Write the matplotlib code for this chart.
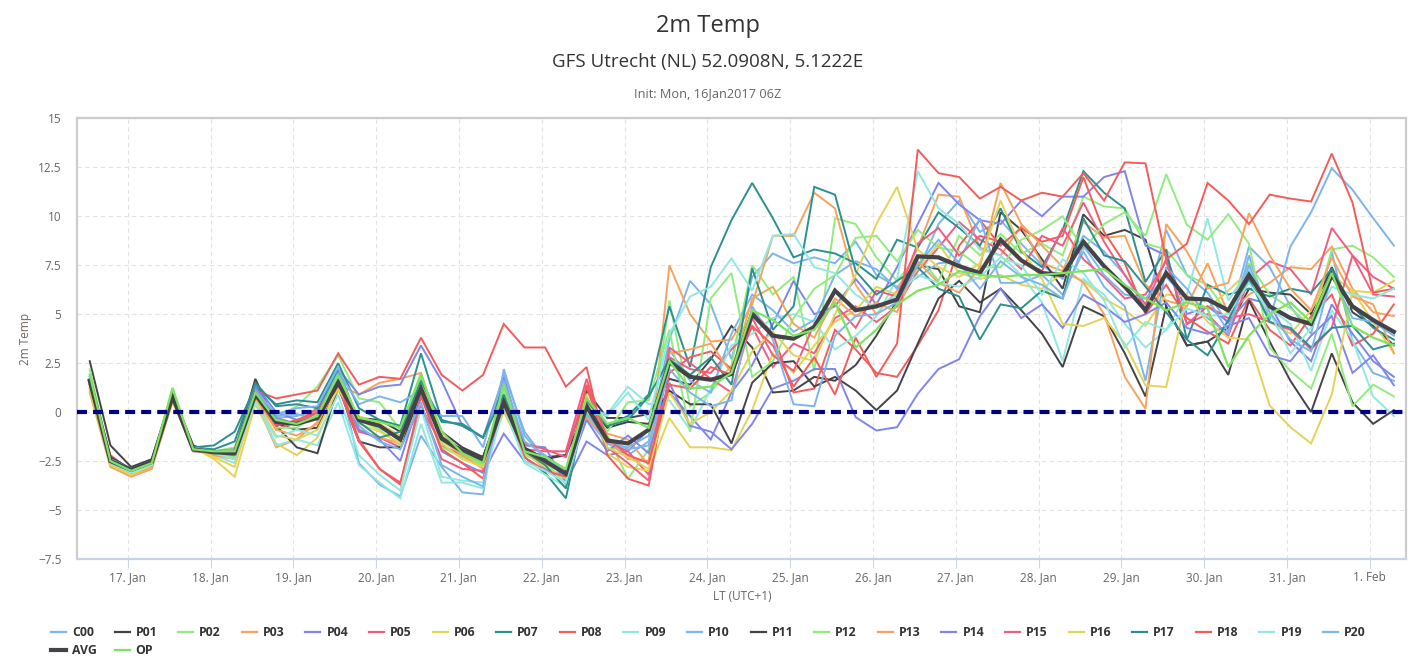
import matplotlib
matplotlib.use('Agg')
import matplotlib.pyplot as plt
import numpy as np
from matplotlib.lines import Line2D
from matplotlib.ticker import FixedLocator, FuncFormatter

plt.rcParams['font.family'] = ['Open Sans', 'DejaVu Sans']

# GFS ensemble, init Mon 16Jan2017 06Z, 6-hourly steps (+6h .. +384h)
lead_hours = np.arange(6, 385, 6)
day_labels = ['17. Jan', '18. Jan', '19. Jan', '20. Jan', '21. Jan', '22. Jan', '23. Jan',
              '24. Jan', '25. Jan', '26. Jan', '27. Jan', '28. Jan', '29. Jan', '30. Jan',
              '31. Jan', '1. Feb']

c00 = [1.8, -2.4, -2.9, -2.5, 0.8, -1.8, -2.0, -2.4, 1.2, -0.3, -0.2, 0.1,
       2.0, -2.6, -3.7, -4.3, -1.2, -2.8, -4.1, -4.2, 2.2, -1.2, -2.4, -3.4, 0.2, -1.6, -2.2, -1.5,
       3.7, 6.7, 5.5, 2.7, 6.9, 8.1, 7.6, 7.9, 7.6, 8.7, 7.0, 6.4, 7.2, 9.6, 10.8, 9.2,
       9.8, 8.6, 7.5, 6.8, 9.0, 8.2, 7.0, 5.3, 9.3, 7.0, 6.1, 4.5, 8.45, 7.4, 5.4, 4.0, 8.2, 3.6, 2.0, 1.6]
p01 = [2.6, -1.7, -2.8, -2.4, 0.9, -1.7, -2.1, -2.0, 1.7, -0.6, -0.9, -0.8,
       1.6, -0.3, -0.4, -1.0, 1.3, -1.0, -1.8, -2.3, 0.6, -1.9, -2.3, -2.2, 1.1, -0.3, -0.3, -0.1,
       1.7, 1.4, 2.7, 4.4, 3.3, 1.0, 1.1, 1.8, 1.6, 2.4, 3.9, 5.7, 7.5, 7.3, 5.4, 5.1,
       10.2, 9.3, 7.8, 6.3, 10.1, 9.0, 9.3, 8.8, 5.4, 3.4, 3.6, 4.3, 6.3, 6.1, 6.0, 5.0, 7.4, 5.1, 4.4, 3.4]
p02 = [2.2, -2.5, -3.0, -2.6, 1.25, -1.9, -2.0, -1.8, 0.9, -0.3, 0.3, 1.3,
       2.9, 0.7, 0.5, -0.9, 2.0, -1.5, -2.1, -2.6, 0.9, -2.2, -2.6, -3.2, 0.0, -1.2, -3.4, -1.9,
       5.7, 0.3, 1.0, 2.4, 7.5, 6.0, 6.9, 2.1, 9.9, 9.6, 7.9, 6.7, 8.0, 6.7, 9.0, 8.0,
       9.1, 8.1, 8.6, 8.0, 11.0, 10.5, 10.4, 8.6, 8.3, 7.0, 6.5, 5.0, 7.6, 6.0, 5.3, 4.4, 8.3, 8.5, 7.9, 6.9]
p03 = [1.0, -2.8, -3.3, -2.9, 0.6, -1.8, -2.1, -2.2, 0.6, -1.8, -1.4, -0.5,
       1.4, 0.9, 1.5, 1.7, 2.0, -1.2, -2.0, -2.5, 0.2, -2.0, -2.9, -3.3, -0.2, -1.1, -1.4, -2.7,
       7.5, 5.0, 3.6, 3.7, 5.5, 9.0, 9.0, 11.2, 10.4, 6.5, 5.0, 6.2, 8.4, 11.1, 11.0, 8.4,
       8.0, 9.5, 7.6, 7.2, 9.7, 8.9, 9.0, 6.5, 5.7, 5.4, 7.6, 5.0, 6.0, 6.6, 7.4, 7.3, 8.45, 6.3, 5.1, 4.9]
p04 = [1.5, -2.6, -3.0, -2.6, 0.7, -1.9, -2.0, -2.1, 1.4, 0.0, -0.4, -0.1,
       2.2, 0.9, 1.3, 1.4, 3.4, 1.6, -0.7, -1.3, 1.8, -1.7, -1.8, -3.6, -1.5, -2.2, -2.0, -0.9,
       1.0, -0.2, -1.4, 1.0, 2.4, 4.5, 6.7, 5.0, 5.4, 6.8, 5.5, 7.4, 9.6, 11.7, 10.6, 9.8,
       9.6, 10.8, 10.0, 11.0, 11.0, 12.0, 12.3, 8.5, 8.0, 5.0, 5.4, 4.6, 5.8, 5.5, 3.6, 2.6, 5.5, 4.0, 2.6, 1.8]
p05 = [1.4, -2.6, -3.1, -2.7, 0.7, -2.0, -2.1, -2.2, 1.0, -0.9, -0.5, 0.2,
       1.2, -1.0, -1.3, -1.8, 0.3, -1.7, -2.2, -2.8, 1.1, -1.9, -2.0, -2.0, 1.7, -1.5, -2.0, -3.2,
       2.8, 2.2, 2.0, 3.2, 4.35, 2.3, 3.5, 3.0, 4.8, 5.4, 4.6, 5.4, 7.2, 8.4, 9.7, 8.8,
       8.3, 7.3, 9.0, 8.5, 10.7, 8.7, 7.0, 5.5, 7.8, 4.5, 5.0, 3.9, 6.8, 7.7, 7.3, 6.0, 9.4, 8.0, 6.9, 6.3]
p06 = [1.1, -2.7, -3.2, -2.8, 0.5, -1.8, -2.4, -3.3, 0.4, -1.6, -2.2, -1.3,
       1.1, -0.2, -0.6, -1.2, 1.8, -1.3, -2.2, -2.7, 0.0, -2.1, -2.7, -3.0, 0.9, -2.1, -2.8, -3.0,
       -0.3, -1.8, -1.8, -1.95, 0.1, 3.0, 2.0, 3.4, 4.6, 5.2, 6.4, 6.0, 7.3, 8.6, 7.1, 6.8,
       7.0, 6.5, 6.3, 7.1, 6.7, 5.8, 5.2, 4.4, 6.0, 5.9, 5.3, 6.2, 7.2, 4.6, 4.0, 5.2, 7.0, 6.2, 4.6, 3.0]
p07 = [1.7, -2.4, -2.9, -2.5, 0.9, -1.8, -1.7, -1.0, 1.3, 0.4, 0.6, 0.5,
       2.5, 0.2, -0.4, -0.7, 3.0, -0.4, -0.7, -1.3, 1.3, -2.3, -3.1, -4.4, 0.5, -0.7, -0.2, 0.9,
       5.4, 2.3, 7.4, 9.8, 11.7, 9.9, 7.9, 8.3, 8.1, 7.6, 6.8, 8.8, 8.4, 10.2, 9.4, 8.5,
       10.4, 8.2, 7.4, 9.3, 12.3, 11.2, 10.4, 6.65, 8.3, 3.7, 6.5, 6.0, 6.3, 5.9, 6.3, 6.1, 7.3, 5.4, 4.3, 3.7]
p08 = [1.5, -2.2, -3.0, -2.6, 0.8, -1.9, -2.0, -1.9, 1.1, 0.7, 0.9, 1.1,
       3.0, 1.4, 1.8, 1.7, 3.8, 1.9, 1.1, 1.9, 4.5, 3.3, 3.3, 1.3, 2.3, -2.2, -3.4, -3.75,
       2.0, 2.8, 3.1, 2.2, 5.2, 4.0, 1.0, 1.2, 4.2, 3.2, 2.0, 1.8, 3.4, 5.2, 8.5, 9.8,
       8.5, 9.4, 8.7, 9.0, 12.0, 9.2, 7.6, 5.0, 6.5, 4.8, 4.1, 3.5, 5.8, 4.2, 3.4, 4.9, 6.0, 3.4, 4.0, 5.5]
p09 = [1.3, -2.6, -3.1, -2.6, 0.8, -1.8, -2.2, -2.6, 0.7, -1.7, -1.4, -1.7,
       0.5, -2.7, -3.6, -4.4, -0.6, -3.6, -3.6, -3.9, 1.0, -2.6, -3.2, -3.8, 0.1, -0.1, 1.3, 0.4,
       0.6, -0.9, 1.2, 3.4, 4.0, 4.8, 5.0, 4.6, 3.2, 3.9, 4.9, 6.8, 12.3, 10.4, 9.6, 8.3,
       8.0, 7.0, 5.6, 2.6, 6.8, 6.0, 4.5, 3.3, 4.2, 6.0, 9.9, 5.7, 7.3, 5.3, 4.5, 2.1, 5.2, 3.7, 0.8, -0.2]
p10 = [1.8, -2.5, -2.9, -2.6, 0.9, -1.8, -2.0, -2.0, 1.2, -0.2, -0.1, -0.4,
       2.1, 0.4, 0.8, 0.5, 1.1, -0.2, -0.2, -1.8, 2.0, -1.0, -2.4, -3.0, -0.3, -1.6, -1.8, -1.2,
       3.2, 1.6, 1.0, 4.0, 6.0, 5.2, 4.1, 4.7, 7.0, 7.7, 7.3, 6.3, 6.9, 7.6, 7.7, 9.9,
       6.6, 6.6, 7.0, 6.0, 8.2, 6.4, 5.4, 1.6, 7.4, 6.3, 4.8, 4.0, 8.0, 4.7, 8.45, 10.2, 12.45, 11.35, 9.9, 8.5]
p11 = [1.4, -2.3, -2.9, -2.5, 0.8, -1.8, -2.0, -2.0, 1.0, -0.7, -1.8, -2.1,
       1.3, -1.5, -1.8, -1.8, 1.0, -1.3, -1.9, -2.3, 0.7, -1.8, -2.4, -2.2, 0.2, -0.8, -0.5, -0.6,
       1.1, 0.4, 0.4, -1.6, 1.5, 2.5, 2.6, 1.3, 1.8, 1.1, 0.1, 1.1, 3.5, 5.8, 6.7, 5.6,
       6.3, 5.2, 4.0, 2.3, 5.4, 4.9, 3.0, 0.8, 5.4, 3.4, 3.6, 1.9, 5.7, 3.6, 1.6, 0.0, 3.0, 0.5, -0.6, 0.1]
p12 = [1.7, -2.5, -3.0, -2.6, 1.1, -1.9, -2.1, -2.3, 0.8, -0.8, -0.8, -0.1,
       1.8, -0.4, -0.9, -1.7, 1.7, -1.8, -2.3, -2.7, 1.2, -2.0, -2.5, -3.7, 0.6, -1.0, 0.5, 0.6,
       4.2, -1.0, 5.8, 7.1, 1.8, 2.6, 4.8, 6.3, 7.0, 8.9, 9.0, 7.7, 9.3, 8.4, 8.2, 7.4,
       7.4, 8.8, 9.3, 10.0, 8.3, 9.6, 10.2, 9.0, 12.15, 9.56, 8.8, 10.1, 8.6, 3.3, 2.1, 1.2, 4.0, 0.3, 1.4, 0.8]
p13 = [1.2, -2.7, -3.2, -2.8, 0.6, -1.9, -2.2, -2.4, 0.7, -0.9, -1.2, -0.6,
       1.5, -0.9, -1.3, -1.6, 1.4, -1.4, -2.2, -2.9, 0.2, -2.0, -2.6, -3.1, -0.3, -1.4, -2.4, -2.5,
       3.0, 3.2, 3.5, 2.0, 5.8, 6.4, 4.5, 3.8, 5.8, 4.9, 5.6, 5.1, 7.7, 6.6, 6.1, 7.4,
       11.7, 9.6, 8.5, 7.4, 6.6, 5.0, 1.8, 0.17, 9.6, 8.2, 6.3, 6.6, 10.15, 8.0, 6.3, 5.2, 7.9, 5.9, 5.5, 3.0]
p14 = [1.6, -2.5, -3.0, -2.6, 0.7, -1.9, -2.0, -2.1, 1.3, -0.3, -0.6, -0.3,
       1.7, -0.9, -1.4, -2.5, 0.9, -2.0, -2.6, -3.1, -1.1, -2.5, -2.9, -3.3, -0.4, -2.0, -1.2, -2.1,
       1.5, -0.7, -1.0, -1.9, -0.6, 1.2, 1.6, 2.2, 2.2, -0.26, -0.94, -0.77, 0.94, 2.2, 2.7, 4.9,
       6.3, 4.8, 5.5, 4.3, 6.0, 5.4, 4.6, 5.0, 5.6, 4.3, 4.0, 4.4, 4.8, 2.9, 2.6, 3.9, 4.9, 2.0, 2.9, 1.37]
p15 = [1.5, -2.6, -3.1, -2.7, 0.8, -2.0, -2.0, -2.2, 1.1, -0.6, -0.6, 0.0,
       1.3, -1.5, -2.9, -3.6, 0.3, -2.4, -2.9, -3.0, 0.8, -1.6, -1.9, -2.3, 1.3, -1.8, -2.6, -3.5,
       3.3, 2.5, 1.7, 1.0, 4.8, 2.9, 2.1, 4.5, 5.5, 4.3, 6.2, 5.9, 8.6, 9.4, 8.0, 9.0,
       8.7, 7.7, 7.2, 9.4, 7.8, 6.9, 5.8, 6.0, 7.7, 4.5, 5.4, 4.8, 5.0, 4.6, 4.2, 3.2, 4.3, 8.0, 6.0, 5.9]
p16 = [1.2, -2.7, -3.2, -2.7, 0.6, -1.8, -2.3, -2.8, 0.6, -1.2, -1.4, -0.9,
       1.2, -0.6, -1.0, -1.6, 1.5, -1.6, -2.4, -2.8, 0.6, -2.1, -2.8, -3.4, 0.7, -1.8, -2.3, -2.9,
       1.0, -0.6, 0.0, 1.1, 3.1, 4.1, 2.9, 2.6, 5.0, 7.0, 9.6, 11.5, 8.3, 7.4, 6.9, 7.6,
       10.8, 8.3, 6.8, 4.5, 4.4, 4.8, 3.5, 1.37, 1.28, 6.0, 4.6, 3.8, 3.7, 0.34, -0.77, -1.6, 0.9, 6.2, 6.1, 6.7]
p17 = [1.6, -2.4, -2.9, -2.5, 0.8, -1.8, -1.9, -1.5, 1.5, 0.3, 0.4, 0.2,
       2.2, -0.5, -1.3, -1.0, 1.6, -0.5, -0.6, -1.3, 0.9, -2.0, -2.7, -3.9, 0.6, -0.7, -0.4, 0.8,
       2.7, 1.9, 2.8, 1.4, 7.34, 4.2, 5.4, 11.5, 11.1, 7.2, 6.0, 6.7, 7.4, 6.3, 5.9, 3.7,
       5.5, 5.3, 6.2, 5.8, 9.9, 8.0, 7.7, 6.4, 5.1, 3.7, 2.9, 4.7, 6.8, 4.6, 4.3, 3.3, 4.3, 4.4, 3.2, 3.5]
p18 = [1.6, -2.5, -3.0, -2.6, 0.8, -1.9, -2.1, -2.2, 0.9, -0.7, -0.4, 0.0,
       1.6, -1.4, -2.9, -3.7, 0.8, -1.9, -2.6, -3.4, 0.4, -2.3, -3.0, -3.3, 1.4, -1.3, -2.2, -2.6,
       1.4, 1.2, 2.3, 1.9, 4.4, 3.4, 1.3, 2.8, 0.9, 3.8, 1.8, 3.5, 13.4, 12.2, 12.0, 10.9,
       11.5, 10.8, 11.2, 11.0, 12.2, 10.8, 12.75, 12.7, 7.8, 8.6, 11.7, 10.8, 9.6, 11.1, 10.9, 10.75, 13.2, 10.7, 6.1, 6.3]
p19 = [1.5, -2.6, -3.1, -2.7, 0.7, -1.9, -2.1, -2.4, 0.5, -1.3, -0.9, -1.2,
       0.9, -2.2, -3.2, -4.0, 0.2, -3.3, -3.5, -3.6, 0.3, -2.5, -3.0, -3.6, 0.0, -0.2, 1.0, -0.4,
       4.0, 5.9, 6.4, 7.85, 6.2, 9.0, 9.1, 7.4, 7.1, 6.0, 5.3, 6.0, 7.0, 6.6, 6.4, 6.9,
       7.9, 7.5, 6.0, 7.8, 7.1, 5.7, 3.3, 4.6, 4.2, 5.3, 4.9, 5.0, 6.6, 5.1, 3.0, 4.3, 6.4, 6.0, 5.8, 6.3]
p20 = [1.7, -2.4, -2.9, -2.5, 0.9, -1.8, -2.0, -1.9, 1.1, -0.1, 0.2, 0.3,
       2.3, -0.7, -1.5, -1.9, 0.5, -2.7, -3.3, -3.8, 1.6, -1.5, -2.2, -3.1, -0.1, -1.4, -1.9, -1.7,
       2.2, 1.0, 0.3, 0.6, 5.4, 3.7, 0.4, 0.3, 3.9, 4.9, 5.0, 5.6, 7.5, 8.8, 7.6, 6.3,
       7.7, 6.9, 6.5, 5.8, 8.5, 7.0, 6.0, 5.8, 6.9, 5.8, 5.8, 4.1, 7.5, 5.1, 3.7, 3.1, 7.0, 4.8, 4.6, 3.9]
avg = [1.6, -2.5, -2.95, -2.55, 0.8, -1.9, -2.05, -2.1, 0.9, -0.5, -0.6, -0.3,
       1.5, -0.4, -0.7, -1.4, 1.2, -1.35, -2.0, -2.45, 0.5, -1.9, -2.5, -3.15, 0.3, -1.45, -1.6, -0.9,
       2.55, 1.8, 1.65, 1.95, 5.0, 3.9, 3.75, 4.35, 6.2, 5.2, 5.4, 5.75, 7.95, 7.9, 7.45, 7.1,
       8.8, 7.75, 7.1, 7.0, 8.7, 7.45, 6.4, 5.2, 7.1, 5.8, 5.75, 5.2, 7.0, 5.4, 4.8, 4.5, 7.0, 5.4, 4.7, 4.1]
op = [1.9, -2.5, -3.0, -2.6, 1.2, -1.9, -2.0, -2.0, 1.0, -0.4, -0.6, -0.2,
      1.9, -0.3, -0.5, -0.8, 1.9, -1.0, -2.1, -2.6, 1.4, -2.0, -2.3, -2.9, 0.7, -0.6, -0.3, -0.8,
      2.6, 1.2, 1.3, 2.0, 5.2, 4.7, 3.9, 4.2, 5.6, 3.3, 4.2, 5.5, 6.2, 6.5, 7.2, 7.0,
      6.9, 7.0, 7.0, 7.1, 7.2, 7.3, 6.5, 5.8, 5.2, 5.6, 5.3, 2.3, 3.9, 5.0, 5.6, 4.6, 7.1, 4.4, 3.8, 3.4]

series_names = ['C00', 'P01', 'P02', 'P03', 'P04', 'P05', 'P06', 'P07', 'P08', 'P09', 'P10',
                'P11', 'P12', 'P13', 'P14', 'P15', 'P16', 'P17', 'P18', 'P19', 'P20', 'AVG', 'OP']
series_vals = [c00, p01, p02, p03, p04, p05, p06, p07, p08, p09, p10,
               p11, p12, p13, p14, p15, p16, p17, p18, p19, p20, avg, op]

palette = ['#7cb5ec', '#434348', '#90ed7d', '#f7a35c', '#8085e9',
           '#f15c80', '#e4d354', '#2b908f', '#f45b5b', '#91e8e1']

for nm, v in zip(series_names, series_vals):
    assert len(v) == len(lead_hours), (nm, len(v))

# days since 17 Jan 00 local time (init 06Z = 07 LT on 16 Jan)
x = (lead_hours - 17) / 24.0

W, H = 1415, 663
fig = plt.figure(figsize=(W / 100, H / 100), dpi=100)
ax = fig.add_axes([76.7 / W, 1 - 559 / H, (1406 - 76.7) / W, (559 - 118.3) / H])

styles = {}
for k, nm in enumerate(series_names):
    if nm == 'AVG':
        styles[nm] = ('#434348', 3.0)
    elif nm == 'OP':
        styles[nm] = ('#7ee363', 1.6)
    else:
        styles[nm] = (palette[k % 10], 1.4)

for k, (nm, v) in enumerate(zip(series_names, series_vals)):
    col, lw = styles[nm]
    ax.plot(x, v, color=col, lw=lw, zorder=2 + k * 0.01, solid_joinstyle='miter')

ax.axhline(0, color='#000080', lw=3, linestyle=(0, (2.4, 1.45)), zorder=5)

ax.set_xlim(-0.616, 15.438)
ax.set_ylim(-7.5, 15)
ax.xaxis.set_major_locator(FixedLocator(np.arange(0, 16)))
ax.set_xticklabels(day_labels)
ax.yaxis.set_major_locator(FixedLocator(np.arange(-7.5, 15.1, 2.5)))
ax.yaxis.set_major_formatter(FuncFormatter(lambda v, p: f'{v:g}'.replace('-', '\u2212')))

ax.grid(True, color='#e3e3e3', lw=0.8, linestyle=(0, (4, 3)), zorder=0)
ax.set_axisbelow(True)
for s in ax.spines.values():
    s.set_color('#cccccc')
    s.set_linewidth(1.6)
ax.spines['bottom'].set_color('#c8d2e6')

ax.tick_params(axis='x', length=6.5, width=0.8, color='#ccd6eb', labelsize=8.5,
               labelcolor='#666666', pad=2)
ax.tick_params(axis='y', length=0, pad=11, labelsize=8.5, labelcolor='#666666')

fig.text(707.5 / W, 1 - 26 / H, '2m Temp', ha='center', va='center', fontsize=17, color='#333333')
fig.text(708 / W, 1 - 62 / H, 'GFS Utrecht (NL) 52.0908N, 5.1222E', ha='center', va='center',
         fontsize=13.5, color='#333333')
fig.text(708 / W, 1 - 93.5 / H, 'Init: Mon, 16Jan2017 06Z', ha='center', va='center',
         fontsize=9.2, color='#666666')
fig.text(742 / W, 1 - 597 / H, 'LT (UTC+1)', ha='center', va='center', fontsize=8.5, color='#666666')
fig.text(25 / W, 1 - 339 / H, '2m Temp', ha='center', va='center', rotation=90,
         fontsize=8.5, color='#6e6660')

# legend: two rows, Highcharts-like layout
for k, nm in enumerate(series_names):
    if k < 21:
        x0, yy = 51 + 63.6 * k, 632
    else:
        x0, yy = 51 + 63.6 * (k - 21), 650
    col, lw = styles[nm]
    fig.add_artist(Line2D([x0 / W, (x0 + 15) / W], [1 - yy / H, 1 - yy / H],
                          transform=fig.transFigure, color=col, lw=max(lw, 1.6)))
    fig.text((x0 + 21) / W, 1 - yy / H, nm, ha='left', va='center', fontsize=8.8,
             fontweight='bold', color='#333333')

fig.savefig('out.png', dpi=100)
